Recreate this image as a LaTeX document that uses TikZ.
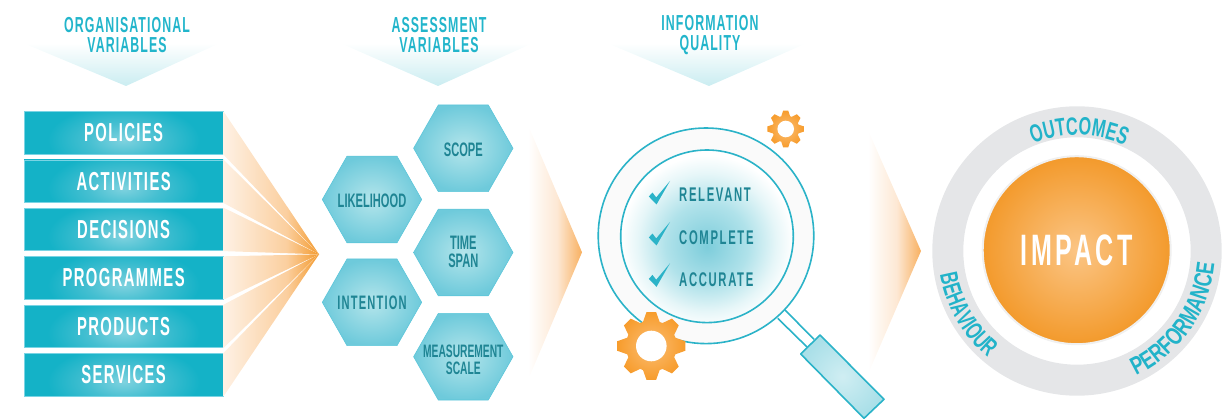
\documentclass[tikz,border=0pt]{standalone}
\usepackage{fontspec}
\usetikzlibrary{decorations.text,calc}
\newfontfamily\bebas[FakeStretch=0.57,UprightFont=* Bold]{Liberation Sans}
\newfontfamily\bebaswide[FakeStretch=0.65,UprightFont=* Bold]{Liberation Sans}
\newfontfamily\bebaswider[FakeStretch=0.73,UprightFont=* Bold]{Liberation Sans}
\newcommand\bbf[3]{\bebas\fontsize{#1}{#2}\selectfont\addfontfeature{LetterSpace=#3}}
\definecolor{boxl}{HTML}{7FD2DF}
\definecolor{boxm}{HTML}{45BFD1}
\definecolor{boxt}{HTML}{14B2C7}
\definecolor{boxe}{HTML}{7AD4E4}
\definecolor{headt}{HTML}{22B5CB}
\definecolor{darkt}{HTML}{1F8594}
\definecolor{ringt}{HTML}{22B3C9}
\definecolor{ringg}{HTML}{E5E6E8}
\definecolor{hexi}{HTML}{B4E5EB}
\definecolor{hexo}{HTML}{6ECADB}
\definecolor{hexe}{HTML}{5CC6DA}
\definecolor{fana}{HTML}{FEF1E4}
\definecolor{fanb}{HTML}{FBCF9F}
\definecolor{fanc}{HTML}{F39A2E}
\definecolor{chva}{HTML}{FFFFFF}
\definecolor{chvb}{HTML}{FDE8D4}
\definecolor{chvc}{HTML}{F8B060}
\definecolor{lensa}{HTML}{7DCDDB}
\definecolor{lensb}{HTML}{B0E2EA}
\definecolor{lensc}{HTML}{E6F6F8}
\definecolor{lensd}{HTML}{FFFFFF}
\definecolor{magl}{HTML}{2BB3C8}
\definecolor{gearo}{HTML}{F79C2C}
\definecolor{geari}{HTML}{FBBE74}
\definecolor{orbi}{HTML}{FBC585}
\definecolor{orbo}{HTML}{F39A2C}
\pgfdeclareradialshading{boxglow}{\pgfpointorigin}{color(0bp)=(boxl); color(9bp)=(boxm); color(19bp)=(boxt); color(50bp)=(boxt)}
\pgfdeclarehorizontalshading{fanshade}{100bp}{color(0bp)=(fana); color(25bp)=(fana); color(58bp)=(fanb); color(75bp)=(fanc); color(100bp)=(fanc)}
\pgfdeclarehorizontalshading{chvshade}{100bp}{color(0bp)=(chva); color(25bp)=(chva); color(52bp)=(chvb); color(75bp)=(chvc); color(100bp)=(chvc)}
\pgfdeclareradialshading{lensshade}{\pgfpoint{0bp}{-3bp}}{color(0bp)=(lensa); color(12bp)=(lensb); color(20bp)=(lensc); color(25bp)=(lensd); color(50bp)=(lensd)}
\tikzset{
  listbox/.style={rectangle,inner sep=0pt,minimum width=199pt,minimum height=42.6pt,draw=boxe,line width=0.8pt,text=white,
    font={\bbf{26}{26}{5.4}},
    path picture={\shade[shading=boxglow] ($(path picture bounding box.center)+(-100,-40)$) rectangle ($(path picture bounding box.center)+(100,54)$);}},
  hexshape/.style={inner color=hexi,outer color=hexo},
  hexline/.style={draw=hexe,line width=0.6pt,line join=round},
  hexlabel/.style={text=darkt,align=center,inner sep=0pt,font={\bbf{19.5}{18}{0}}},
  headtxt/.style={text=headt,align=center,inner sep=0pt,font={\bbf{21.7}{20}{5}}},
  listtxt/.style={text=darkt,anchor=west,inner sep=0pt,font={\bbf{19.8}{20}{8.4}}},
  headtri/.style={top color=white,bottom color=hexi!70!white},
  wedge/.style={shading=fanshade},
  chevron/.style={shading=chvshade},
  ringtxt/.style 2 args={decorate,decoration={text along path,text align=center,
    text={|#1\fontsize{25}{25}\selectfont\color{ringt}|#2}}},
  magline/.style={draw=magl,line width=1.6pt},
  checkmark/.style={fill=magl},
  gearfill/.style={inner color=geari,outer color=gearo}
}
\newcommand\gearpath[3]{% centre, root radius, outer radius
  \shade[gearfill,shift={#1}] (-20:#2) \foreach \a in {0,45,...,315} { -- (\a-19:#2) -- (\a-8:#3) -- (\a+8:#3) -- (\a+19:#2) } -- cycle;}
\begin{document}
\begin{tikzpicture}[x=1pt,y=-1pt]
\useasboundingbox (0,0) rectangle (1228,419);
% header triangles
\coordinate (h1a) at (126,86); \coordinate (h2a) at (438,86); \coordinate (h3a) at (709,86);
\shade[headtri] (23,43) -- (220,43) -- (h1a) -- cycle;
\shade[headtri] (340,43) -- (533,43) -- (h2a) -- cycle;
\shade[headtri] (607,43) -- (807,43) -- (h3a) -- cycle;
\node[headtxt] (h1) at (127,35) {ORGANISATIONAL\\VARIABLES};
\node[headtxt] (h2) at (439,35) {ASSESSMENT\\VARIABLES};
\node[headtxt] (h3) at (710,35) {INFORMATION\\QUALITY};
% boxes
\node[listbox] (b1) at (123.6,133) {POLICIES};
\node[listbox] (b2) at (123.6,181.3) {ACTIVITIES};
\node[listbox] (b3) at (123.6,229.4) {DECISIONS};
\node[listbox] (b4) at (123.6,278) {PROGRAMMES};
\node[listbox] (b5) at (123.6,326.4) {PRODUCTS};
\node[listbox] (b6) at (123.6,374.7) {SERVICES};
% fan
\coordinate (apex) at (319,254.3);
\foreach \b in {b1,b2,b3,b4,b5,b6}
  \shade[wedge] (\b.north east) -- (apex) -- (\b.south east) -- cycle;
% hexagons
\foreach \c in {(463.3,148.3),(463.3,252.5),(463.3,356.7),(372,199.5),(372,302.3)}{
  \shade[hexshape,shift={\c}] (-49.7,0) -- (-25,-43.3) -- (25,-43.3) -- (49.7,0) -- (25,43.3) -- (-25,43.3) -- cycle;
  \draw[hexline,shift={\c}] (-49.7,0) -- (-25,-43.3) -- (25,-43.3) -- (49.7,0) -- (25,43.3) -- (-25,43.3) -- cycle;
}
\node[hexlabel] (scope) at (463.3,149.3) {SCOPE};
\node[hexlabel] (time) at (463.3,251.5) {TIME\\SPAN};
\node[hexlabel,font={\bbf{18}{17.3}{0}}] (meas) at (463.3,360) {MEASUREMENT\\SCALE};
\node[hexlabel] (like) at (372,200.5) {LIKELIHOOD};
\node[hexlabel,font={\bbf{19.5}{18}{6}}] (inte) at (372,303) {INTENTION};
% chevrons
\coordinate (c1) at (582,252.3); \coordinate (c2) at (921,251);
\shade[chevron] (528,125) -- (c1) -- (528,380) -- cycle;
\shade[chevron] (868,130) -- (c2) -- (868,374) -- cycle;
% magnifier
\coordinate (m1a) at (785,310); \coordinate (m1b) at (814,339.3);
\coordinate (m2a) at (777.7,318.3); \coordinate (m2b) at (807,347);
\draw[magline] (m1a) -- (m1b);
\draw[magline] (m2a) -- (m2b);
\coordinate (ha) at (820,335); \coordinate (hb) at (800.7,354); \coordinate (hc) at (864,418.3); \coordinate (hd) at (884,399.3);
\shade[inner color=lensb!60!white,outer color=lensb!90!lensa] (ha) -- (hb) -- (hc) -- (hd) -- cycle;
\draw[magline,line join=round] (ha) -- (hb) -- (hc) -- (hd) -- cycle;
\node[circle,minimum size=215.6pt,inner sep=0pt,fill=black!2,draw=magl,line width=1.6pt] (outerlens) at (706,235.8) {};
\node[circle,minimum size=172.6pt,inner sep=0pt,shading=lensshade,draw=magl,line width=1.6pt] (innerlens) at (707,236.3) {};
\foreach \dy in {0,41,82.3}
  \fill[checkmark,shift={(0,\dy)}] (648.8,196.5) -- (652.5,192.6) -- (656.2,197.4) -- (670,181) -- (656.5,204.5) -- cycle;
\node[listtxt] (l1) at (679,194.7) {RELEVANT};
\node[listtxt] (l2) at (679,237.3) {COMPLETE};
\node[listtxt] (l3) at (679,279.3) {ACCURATE};
% gears
\gearpath{(651.3,346)}{25.5}{34.3}
\fill[white] (651.3,346) circle[radius=15.3];
\gearpath{(785.7,129)}{13.5}{18.5}
\fill[white] (785.7,129) circle[radius=8.3];
% ring
\fill[ringg,even odd rule] (1077,251) circle[radius=144.7] circle[radius=113.7];
\node[circle,minimum size=188pt,inner sep=0pt,inner color=orbi,outer color=orbo,draw=black!6,line width=2pt,text=white,font={\bbf{44}{44}{8.3}}] (impact) at (1076.7,250.2) {IMPACT};
\path[ringtxt={\bebaswide}{OUTCOMES}] (1077,251) ++(-129:116) arc[start angle=-129,end angle=-49,radius=116];
\path[ringtxt={\bebaswider}{PERFORMANCE}] (1077,251) ++(75:138) arc[start angle=75,end angle=-5,radius=138];
\path[ringtxt={\bebaswide}{BEHAVIOUR}] (1077,251) ++(-170:139) arc[start angle=-170,end angle=-250,radius=139];
\end{tikzpicture}
\end{document}
